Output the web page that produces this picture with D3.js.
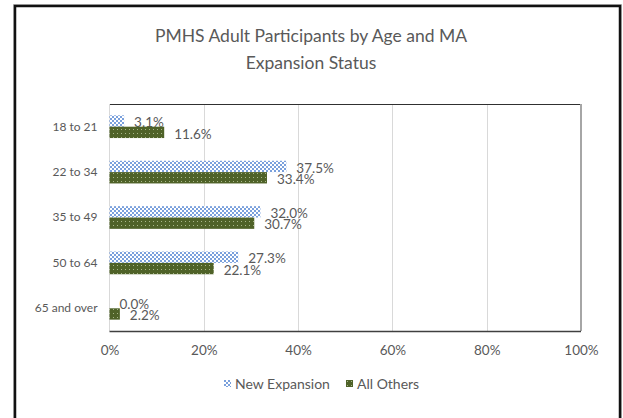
<!DOCTYPE html>
<html>
<head>
<meta charset="utf-8">
<script src="https://cdn.jsdelivr.net/npm/d3@7"></script>
<style>
  body { margin: 0; background: #fff; }
  svg { display: block; font-family: Lato, "Open Sans", sans-serif; }
</style>
</head>
<body>
<svg id="chart" width="623" height="418"></svg>
<script>
(function(){

  // data
  var categories = ["18 to 21", "22 to 34", "35 to 49", "50 to 64", "65 and over"];
  var seriesNames = ["New Expansion", "All Others"];
  var newExpansion = [3.1, 37.5, 32.0, 27.3, 0.0];
  var allOthers = [11.6, 33.4, 30.7, 22.1, 2.2];
  var xTicks = [0, 20, 40, 60, 80, 100];

  var svg = d3.select("#chart");
  var defs = svg.append("defs");

  // blue checker pattern
  var pBlue = defs.append("pattern").attr("id", "pBlue")
    .attr("patternUnits", "userSpaceOnUse").attr("width", 4).attr("height", 4);
  pBlue.append("rect").attr("width", 4).attr("height", 4).attr("fill", "#ffffff");
  pBlue.append("rect").attr("width", 2).attr("height", 2).attr("fill", "#7aa0dc");
  pBlue.append("rect").attr("x", 2).attr("y", 2).attr("width", 2).attr("height", 2).attr("fill", "#7aa0dc");

  // dark green with small light dots
  var pGreen = defs.append("pattern").attr("id", "pGreen")
    .attr("patternUnits", "userSpaceOnUse").attr("width", 4).attr("height", 4);
  pGreen.append("rect").attr("width", 4).attr("height", 4).attr("fill", "#4f6228");
  pGreen.append("rect").attr("x", 1).attr("y", 1).attr("width", 1).attr("height", 1).attr("fill", "#a9b78a");

  var fills = ["url(#pBlue)", "url(#pGreen)"];
  var series = [newExpansion, allOthers];

  // outer chart frame
  svg.append("rect").attr("x", 13.5).attr("y", 4.5).attr("width", 608).attr("height", 430)
    .attr("fill", "none").attr("stroke", "#c0c0c0").attr("stroke-width", 1);
  svg.append("rect").attr("x", 15).attr("y", 6).attr("width", 605).attr("height", 430)
    .attr("fill", "none").attr("stroke", "#111").attr("stroke-width", 2.5);

  // title
  var title = svg.append("text").attr("text-anchor", "middle")
    .attr("fill", "#595959").style("font-size", "17.5px");
  title.append("tspan").attr("x", 311).attr("y", 42).text("PMHS Adult Participants by Age and MA");
  title.append("tspan").attr("x", 311).attr("y", 69).text("Expansion Status");

  var left = 109.5, right = 581, top = 104, bottom = 331;

  var x = d3.scaleLinear().domain([0, 100]).range([left, right]);
  var y = d3.scaleBand().domain(categories).range([top, bottom]).paddingInner(0.5).paddingOuter(0.25);
  var ySub = d3.scaleBand().domain(seriesNames).range([0, y.bandwidth()]);

  // gridlines
  svg.append("g").selectAll("line").data(xTicks.slice(1, -1)).enter().append("line")
    .attr("x1", function(d){ return Math.round(x(d)) + 0.5; })
    .attr("x2", function(d){ return Math.round(x(d)) + 0.5; })
    .attr("y1", top).attr("y2", bottom)
    .attr("stroke", "#d9d9d9").attr("stroke-width", 1);

  // plot frame bits
  svg.append("line").attr("x1", left).attr("x2", right).attr("y1", top + 0.5).attr("y2", top + 0.5)
    .attr("stroke", "#303030").attr("stroke-width", 1.2);
  svg.append("line").attr("x1", x(100)).attr("x2", x(100)).attr("y1", top).attr("y2", bottom)
    .attr("stroke", "#a6a6a6").attr("stroke-width", 2);
  svg.append("line").attr("x1", left).attr("x2", left).attr("y1", top).attr("y2", bottom)
    .attr("stroke", "#d9d9d9").attr("stroke-width", 1);

  // bars
  series.forEach(function(vals, si){
    var g = svg.append("g");
    g.selectAll("rect").data(vals).enter().append("rect")
      .attr("x", x(0))
      .attr("y", function(d, i){ return y(categories[i]) + ySub(seriesNames[si]); })
      .attr("width", function(d){ return x(d) - x(0); })
      .attr("height", ySub.bandwidth())
      .attr("fill", fills[si]);
    g.selectAll("text").data(vals).enter().append("text")
      .attr("x", function(d){ return x(d) + 10; })
      .attr("y", function(d, i){ return y(categories[i]) + ySub(seriesNames[si]) + ySub.bandwidth() + 0.5; })
      .attr("fill", "#595959").style("font-size", "13.5px")
      .text(function(d){ return d.toFixed(1) + "%"; });
  });

  // x axis line
  svg.append("line").attr("x1", left).attr("x2", right).attr("y1", bottom + 0.5).attr("y2", bottom + 0.5)
    .attr("stroke", "#404040").attr("stroke-width", 1.5);

  // axes
  var xAxis = d3.axisBottom(x).tickValues(xTicks).tickSize(0).tickPadding(14)
    .tickFormat(function(d){ return d + "%"; });
  var gx = svg.append("g").attr("transform", "translate(0," + bottom + ")").call(xAxis);
  gx.select(".domain").remove();
  gx.selectAll("text").attr("fill", "#595959").style("font-size", "13.5px")
    .style("font-family", "Lato, 'Open Sans', sans-serif");

  var yAxis = d3.axisLeft(y).tickSize(0).tickPadding(12);
  var gy = svg.append("g").attr("transform", "translate(" + left + ",0)").call(yAxis);
  gy.select(".domain").remove();
  gy.selectAll("text").attr("fill", "#595959").style("font-size", "12px")
    .style("font-family", "Lato, 'Open Sans', sans-serif");

  // legend
  var legendX = [224, 346];
  var lg = svg.append("g").selectAll("g").data(seriesNames).enter().append("g")
    .attr("transform", function(d, i){ return "translate(" + legendX[i] + ",380)"; });
  lg.append("rect").attr("width", 7).attr("height", 7)
    .attr("fill", function(d, i){ return fills[i]; });
  lg.append("text").attr("x", 11).attr("y", 8.5).attr("fill", "#595959")
    .style("font-size", "14px").text(function(d){ return d; });

})();
</script>
</body>
</html>
